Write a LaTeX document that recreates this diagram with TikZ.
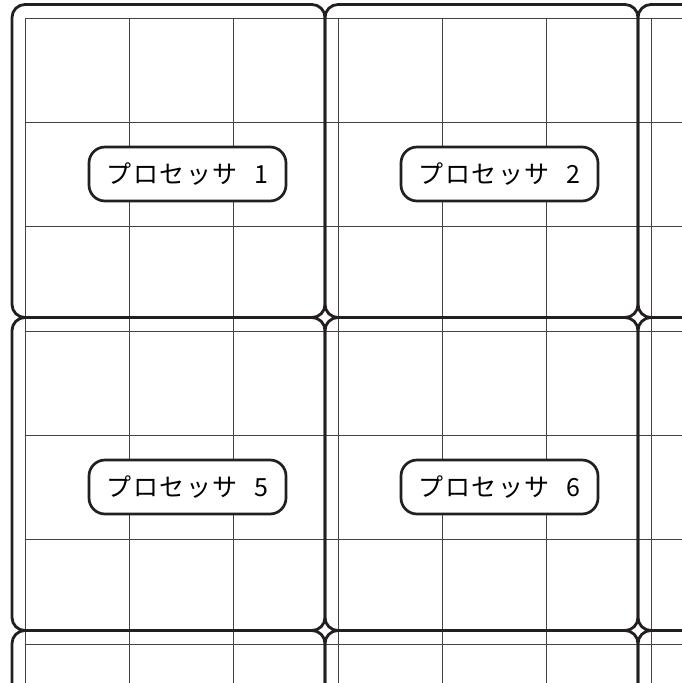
\documentclass[tikz,border=0pt]{standalone}
\usepackage{fontspec}
\newfontfamily\jp{Noto Sans CJK JP}
\definecolor{ink}{HTML}{231F20}
\newcommand{\proclabel}[1]{\raisebox{-2pt}{プ\kern1.5pt ロ\kern1.5pt セ\kern1.5pt ッ\kern1.5pt サ\kern17pt #1}}
\begin{document}
\begin{tikzpicture}[x=1pt,y=-1pt,
  tilebox/.style={draw=ink, line width=2.8pt, rounded corners=13pt},
  gridline/.style={draw=ink!85, line width=1pt},
  procbox/.style={draw=ink, line width=2.7pt, fill=white, rounded corners=16pt,
    minimum width=197pt, minimum height=54pt, inner sep=0pt,
    font=\jp\fontsize{25}{25}\selectfont}]
\useasboundingbox (0,0) rectangle (682,683);
\begin{scope}
\clip (0,0) rectangle (682,683);
\foreach \i in {0,...,6} {
  \draw[gridline] ({25+\i*104.333},18) -- ({25+\i*104.333},690);
  \draw[gridline] (25,{18+\i*104.333}) -- (690,{18+\i*104.333});
}
\foreach \c in {0,1,2} {
  \foreach \r in {0,1,2} {
    \draw[tilebox] ({12+313*\c},{4.5+313*\r}) rectangle +(313,313);
  }
}
\end{scope}
\node[procbox] (p1) at (187.5,174) {\proclabel{1}};
\node[procbox] (p2) at (499.5,174) {\proclabel{2}};
\node[procbox] (p5) at (187.5,487) {\proclabel{5}};
\node[procbox] (p6) at (499.5,487) {\proclabel{6}};
\end{tikzpicture}
\end{document}
